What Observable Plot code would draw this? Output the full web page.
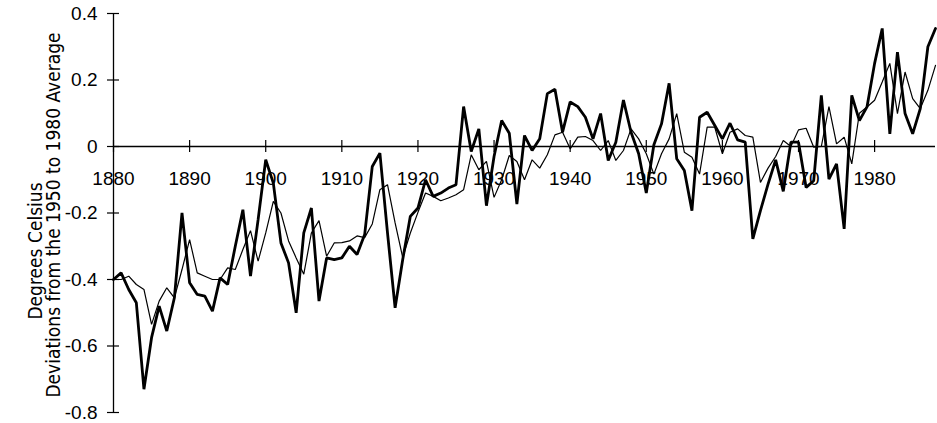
<!DOCTYPE html>
<html>
<head>
<meta charset="utf-8">
<script src="https://cdn.jsdelivr.net/npm/d3@7"></script>
<script src="https://cdn.jsdelivr.net/npm/@observablehq/plot@0.6"></script>
<style>
  html, body { margin: 0; padding: 0; background: #fff; }
  #chart { width: 937px; height: 423px; }
</style>
</head>
<body>
<div id="chart"></div>
<script>
const years = [
  1880,1881,1882,1883,1884,1885,1886,1887,1888,1889,
  1890,1891,1892,1893,1894,1895,1896,1897,1898,1899,
  1900,1901,1902,1903,1904,1905,1906,1907,1908,1909,
  1910,1911,1912,1913,1914,1915,1916,1917,1918,1919,
  1920,1921,1922,1923,1924,1925,1926,1927,1928,1929,
  1930,1931,1932,1933,1934,1935,1936,1937,1938,1939,
  1940,1941,1942,1943,1944,1945,1946,1947,1948,1949,
  1950,1951,1952,1953,1954,1955,1956,1957,1958,1959,
  1960,1961,1962,1963,1964,1965,1966,1967,1968,1969,
  1970,1971,1972,1973,1974,1975,1976,1977,1978,1979,
  1980,1981,1982,1983,1984,1985,1986,1987,1988
];

// Thick line series
const thickSeries = [
  -0.40,-0.38,-0.43,-0.47,-0.73,-0.575,-0.48,-0.555,-0.455,-0.20,
  -0.41,-0.445,-0.45,-0.495,-0.395,-0.415,-0.30,-0.19,-0.39,-0.22,
  -0.04,-0.11,-0.29,-0.35,-0.50,-0.26,-0.185,-0.465,-0.335,-0.34,
  -0.335,-0.30,-0.325,-0.265,-0.06,-0.02,-0.26,-0.485,-0.34,-0.21,
  -0.185,-0.10,-0.15,-0.14,-0.125,-0.115,0.12,-0.015,0.053,-0.178,
  -0.03,0.078,0.04,-0.173,0.033,-0.012,0.023,0.159,0.172,0.043,
  0.134,0.12,0.088,0.023,0.099,-0.042,0.013,0.14,0.043,-0.022,
  -0.14,0.005,0.068,0.19,-0.037,-0.072,-0.193,0.088,0.103,0.063,
  0.023,0.07,0.02,0.013,-0.278,-0.193,-0.113,-0.04,-0.135,0.013,
  0.013,-0.123,-0.103,0.154,-0.098,-0.052,-0.248,0.154,0.078,0.119,
  0.25,0.355,0.038,0.284,0.099,0.038,0.114,0.30,0.355
];

// Thin line series
const thinSeries = [
  -0.40,-0.40,-0.39,-0.415,-0.43,-0.535,-0.465,-0.425,-0.455,-0.37,
  -0.28,-0.38,-0.39,-0.40,-0.40,-0.365,-0.37,-0.31,-0.253,-0.345,
  -0.26,-0.165,-0.20,-0.284,-0.335,-0.384,-0.26,-0.223,-0.33,-0.29,
  -0.289,-0.284,-0.269,-0.274,-0.233,-0.13,-0.115,-0.23,-0.334,-0.26,
  -0.198,-0.14,-0.15,-0.163,-0.155,-0.145,-0.13,-0.025,-0.07,-0.045,
  -0.153,-0.10,-0.027,-0.045,-0.10,-0.04,-0.065,-0.025,0.035,0.043,
  -0.007,0.028,0.03,0.018,-0.012,0.018,-0.042,-0.012,0.053,0.023,
  -0.022,-0.083,-0.022,0.023,0.099,-0.017,-0.032,-0.083,0.058,0.058,
  -0.022,0.043,0.053,0.033,0.028,-0.108,-0.065,-0.03,0.018,0.0,
  0.05,0.055,-0.002,0.0,0.12,0.008,0.028,-0.052,0.10,0.119,
  0.139,0.194,0.25,0.099,0.224,0.144,0.114,0.169,0.244
];

const xTicks = [1880,1890,1900,1910,1920,1930,1940,1950,1960,1970,1980];
const yTicks = [0.4,0.2,0,-0.2,-0.4,-0.6,-0.8];
const yTickLabels = ["0.4","0.2","0","-0.2","-0.4","-0.6","-0.8"];
const titleLines = ["Degrees Celsius","Deviations from the 1950 to 1980 Average"];

const data = years.map((year, i) => ({year, thick: thickSeries[i], thin: thinSeries[i]}));
const yTickData = yTicks.map((v, i) => ({v, label: yTickLabels[i]}));

const titleFont = "'Liberation Sans Narrow', 'DejaVu Sans Condensed', 'Liberation Sans', sans-serif";

const chart = Plot.plot({
  width: 937,
  height: 423,
  marginLeft: 113,
  marginRight: 2,
  marginTop: 13,
  marginBottom: 11,
  x: {domain: [1880, 1988], axis: null},
  y: {domain: [-0.8, 0.4], axis: null},
  style: {fontFamily: "'Liberation Sans', Arial, sans-serif", fontSize: "18px", background: "white", color: "black"},
  marks: [
    // x tick labels (drawn first so the lines pass over them)
    Plot.text(xTicks, {x: d => d, y: 0, text: d => String(d), dy: 32, fontSize: 19, fill: "black"}),
    // y tick labels
    Plot.text(yTickData, {x: 1880, y: "v", text: "label", textAnchor: "end", dx: -16, fontSize: 19, fill: "black"}),
    // axes
    Plot.ruleY([0], {x1: 1880, x2: 1988, stroke: "black", strokeWidth: 1.3}),
    Plot.ruleX([1880], {y1: -0.8, y2: 0.4, stroke: "black", strokeWidth: 1.3}),
    Plot.ruleX(xTicks, {x: d => d, y1: 0, y2: 0, insetTop: -6, insetBottom: -6, stroke: "black", strokeWidth: 1.2}),
    Plot.ruleY(yTicks, {y: d => d, x1: 1880, x2: 1880, insetLeft: -6, insetRight: -6, stroke: "black", strokeWidth: 1.2}),
    // series
    Plot.line(data, {x: "year", y: "thin", stroke: "black", strokeWidth: 1.2, strokeLinejoin: "miter"}),
    Plot.line(data, {x: "year", y: "thick", stroke: "black", strokeWidth: 2.8, strokeLinejoin: "miter"}),
    // y-axis title (two lines)
    Plot.text([titleLines[0]], {text: d => d, frameAnchor: "left", textAnchor: "middle", lineAnchor: "middle", rotate: -90, dx: -78, dy: 38, fontFamily: titleFont, fontSize: 19, fill: "black"}),
    Plot.text([titleLines[1]], {text: d => d, frameAnchor: "left", textAnchor: "middle", lineAnchor: "middle", rotate: -90, dx: -60, dy: 2, fontFamily: titleFont, fontSize: 19, fill: "black"})
  ]
});

document.getElementById("chart").appendChild(chart);
</script>
</body>
</html>
